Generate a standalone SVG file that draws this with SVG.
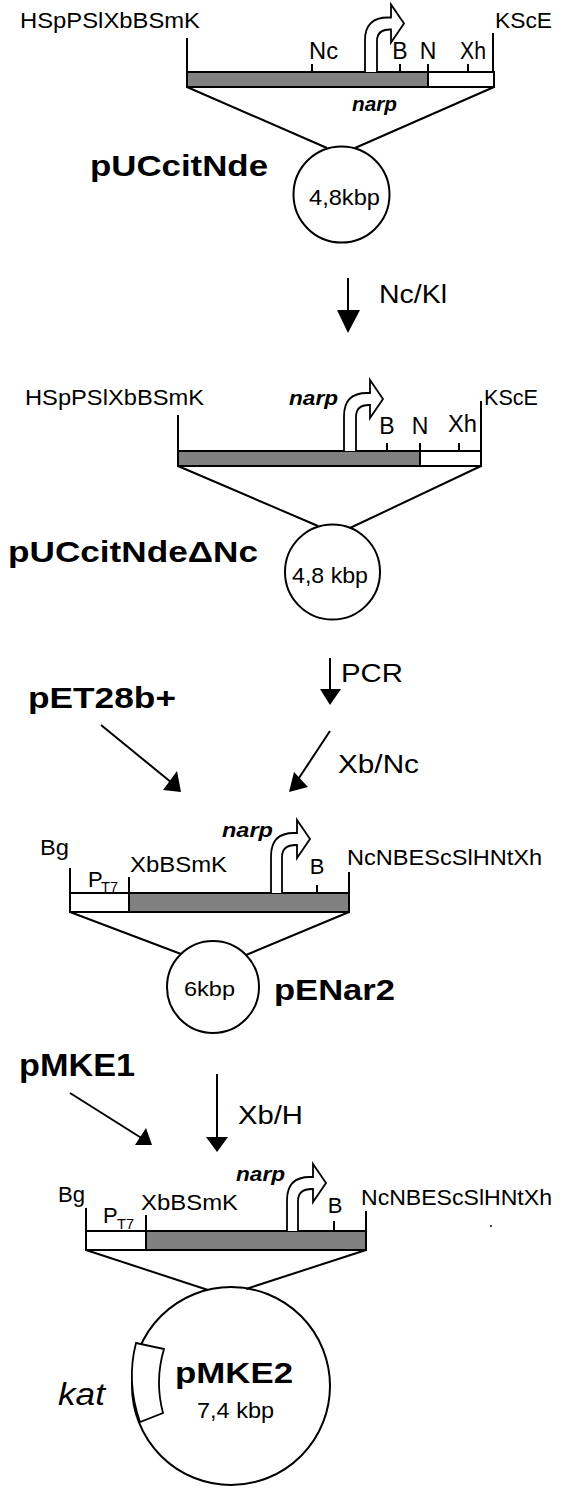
<svg xmlns="http://www.w3.org/2000/svg" width="566" height="1493" viewBox="0 0 566 1493">
<style>
.ln{stroke:#000;stroke-width:2;fill:none}
.bar{stroke:#000;stroke-width:2}
.g{fill:#808080}
.w{fill:#fff}
.pr{stroke:#000;stroke-width:1.8;fill:#fff;stroke-linejoin:miter}
.hd{fill:#000}
text{font-family:"Liberation Sans",Arial,sans-serif;fill:#000}
.bd{font-weight:bold}
.bi{font-weight:bold;font-style:italic}
.it{font-style:italic}
</style>
<rect width="566" height="1493" fill="#fff"/>

<g id="pUCcitNde">
<text x="20" y="28" font-size="22" textLength="180" lengthAdjust="spacingAndGlyphs">HSpPSlXbBSmK</text>
<text x="495" y="28" font-size="22" textLength="57" lengthAdjust="spacingAndGlyphs">KScE</text>
<text x="309" y="59" font-size="23" textLength="29" lengthAdjust="spacingAndGlyphs">Nc</text>
<text x="400" y="59" font-size="23" text-anchor="middle">B</text>
<text x="428" y="59" font-size="23" text-anchor="middle">N</text>
<text x="460" y="59" font-size="23" textLength="26" lengthAdjust="spacingAndGlyphs">Xh</text>
<line class="ln" x1="187" y1="38" x2="187" y2="72"/>
<line class="ln" x1="493" y1="33" x2="493" y2="72"/>
<line class="ln" x1="312" y1="64" x2="312" y2="72"/>
<line class="ln" x1="400" y1="64" x2="400" y2="72"/>
<line class="ln" x1="428" y1="64" x2="428" y2="72"/>
<line class="ln" x1="468" y1="64" x2="468" y2="72"/>
<rect class="bar g" x="187" y="72" width="241" height="15"/>
<rect class="bar w" x="428" y="72" width="66" height="15"/>
<path class="pr" d="M365,72 V40 Q365,17.5 388,17.5 H391 V4.5 L404,23.5 L391,42.5 V29.5 H390 Q377,29.5 377,41 V72"/>
<text class="bi" x="352" y="111" font-size="21" textLength="45" lengthAdjust="spacingAndGlyphs">narp</text>
<line class="ln" x1="187" y1="87" x2="327" y2="148"/>
<line class="ln" x1="494" y1="87" x2="355" y2="148"/>
<circle class="ln" cx="341.5" cy="194.5" r="48"/>
<text x="309" y="205" font-size="22" textLength="71" lengthAdjust="spacingAndGlyphs">4,8kbp</text>
<text class="bd" x="90" y="176" font-size="30" textLength="178" lengthAdjust="spacingAndGlyphs">pUCcitNde</text>
</g>

<g id="pUCcitNdeDNc">
<text x="25" y="405" font-size="22" textLength="179" lengthAdjust="spacingAndGlyphs">HSpPSlXbBSmK</text>
<text x="484" y="405" font-size="22" textLength="54" lengthAdjust="spacingAndGlyphs">KScE</text>
<text x="387" y="434" font-size="23" text-anchor="middle">B</text>
<text x="420" y="434" font-size="23" text-anchor="middle">N</text>
<text x="448" y="432" font-size="23" textLength="29" lengthAdjust="spacingAndGlyphs">Xh</text>
<line class="ln" x1="178" y1="415" x2="178" y2="451"/>
<line class="ln" x1="481" y1="401" x2="481" y2="451"/>
<line class="ln" x1="387" y1="443" x2="387" y2="451"/>
<line class="ln" x1="420" y1="443" x2="420" y2="451"/>
<line class="ln" x1="459" y1="443" x2="459" y2="451"/>
<rect class="bar g" x="178" y="451" width="242" height="15"/>
<rect class="bar w" x="420" y="451" width="61" height="15"/>
<path class="pr" d="M344,451 V416 Q344,393 367,393 H370 V380 L383,399 L370,418 V405 H369 Q356,405 356,417 V451"/>
<text class="bi" x="289" y="405" font-size="21" textLength="49" lengthAdjust="spacingAndGlyphs">narp</text>
<line class="ln" x1="178" y1="466" x2="318" y2="526"/>
<line class="ln" x1="481" y1="466" x2="350" y2="528"/>
<circle class="ln" cx="332.5" cy="572" r="47.5"/>
<text x="292" y="583" font-size="22" textLength="76" lengthAdjust="spacingAndGlyphs">4,8 kbp</text>
<text class="bd" x="8" y="562" font-size="30" textLength="250" lengthAdjust="spacingAndGlyphs">pUCcitNdeΔNc</text>
</g>

<g id="pET28b">
<text class="bd" x="28" y="708" font-size="30" textLength="148" lengthAdjust="spacingAndGlyphs">pET28b+</text>
</g>

<g id="pENar2">
<text x="40" y="855" font-size="22" textLength="29" lengthAdjust="spacingAndGlyphs">Bg</text>
<text x="88" y="887" font-size="22">P</text>
<text x="101" y="892" font-size="14" textLength="17" lengthAdjust="spacingAndGlyphs">T7</text>
<text x="130" y="872" font-size="22" textLength="97" lengthAdjust="spacingAndGlyphs">XbBSmK</text>
<text x="347" y="865" font-size="22" textLength="195" lengthAdjust="spacingAndGlyphs">NcNBEScSlHNtXh</text>
<text x="317" y="874" font-size="22" text-anchor="middle">B</text>
<line class="ln" x1="70" y1="868" x2="70" y2="893"/>
<line class="ln" x1="129" y1="877" x2="129" y2="893"/>
<line class="ln" x1="349" y1="872" x2="349" y2="893"/>
<line class="ln" x1="317" y1="885" x2="317" y2="893"/>
<rect class="bar w" x="70" y="893" width="59" height="19"/>
<rect class="bar g" x="129" y="893" width="220" height="19"/>
<path class="pr" d="M271,893 V856 Q271,833 294,833 H297 V820 L310,839 L297,858 V845 H296 Q282,845 282,857 V893"/>
<text class="bi" x="222" y="837" font-size="21" textLength="51" lengthAdjust="spacingAndGlyphs">narp</text>
<line class="ln" x1="70" y1="912" x2="181" y2="954"/>
<line class="ln" x1="349" y1="912" x2="246" y2="955"/>
<circle class="ln" cx="213" cy="987" r="46"/>
<text x="184" y="996" font-size="20" textLength="51" lengthAdjust="spacingAndGlyphs">6kbp</text>
<text class="bd" x="274" y="1000" font-size="30" textLength="121" lengthAdjust="spacingAndGlyphs">pENar2</text>
</g>

<g id="pMKE1">
<text class="bd" x="19" y="1076" font-size="31" textLength="116" lengthAdjust="spacingAndGlyphs">pMKE1</text>
</g>

<g id="pMKE2">
<text x="58" y="1202" font-size="22" textLength="27" lengthAdjust="spacingAndGlyphs">Bg</text>
<text x="103" y="1223" font-size="22">P</text>
<text x="117" y="1229" font-size="14" textLength="17" lengthAdjust="spacingAndGlyphs">T7</text>
<text x="141" y="1210" font-size="22" textLength="97" lengthAdjust="spacingAndGlyphs">XbBSmK</text>
<text x="361" y="1205" font-size="22" textLength="191" lengthAdjust="spacingAndGlyphs">NcNBEScSlHNtXh</text>
<text x="335" y="1213" font-size="22" text-anchor="middle">B</text>
<circle cx="491" cy="1226" r="1" fill="#000"/>
<line class="ln" x1="86" y1="1208" x2="86" y2="1231"/>
<line class="ln" x1="146" y1="1215" x2="146" y2="1231"/>
<line class="ln" x1="366" y1="1211" x2="366" y2="1231"/>
<line class="ln" x1="334" y1="1221" x2="334" y2="1231"/>
<rect class="bar w" x="86" y="1231" width="60" height="19"/>
<rect class="bar g" x="146" y="1231" width="220" height="19"/>
<path class="pr" d="M287,1231 V1200 Q287,1177 310,1177 H313 V1164 L326,1183 L313,1202 V1189 H312 Q298,1189 298,1201 V1231"/>
<text class="bi" x="236" y="1181" font-size="21" textLength="49" lengthAdjust="spacingAndGlyphs">narp</text>
<line class="ln" x1="86" y1="1250" x2="208" y2="1290"/>
<line class="ln" x1="366" y1="1250" x2="246" y2="1289"/>
<circle class="ln" cx="231" cy="1386" r="99"/>
<path class="pr" d="M136,1343 L164,1349 Q154.5,1381 163,1413 L140,1422 Q126,1382 136,1343 Z"/>
<text class="it" x="58" y="1405" font-size="31" textLength="47" lengthAdjust="spacingAndGlyphs">kat</text>
<text class="bd" x="175" y="1383" font-size="29" textLength="118" lengthAdjust="spacingAndGlyphs">pMKE2</text>
<text x="197" y="1418" font-size="22" textLength="77" lengthAdjust="spacingAndGlyphs">7,4 kbp</text>
</g>

<g id="connectors">
<line class="ln" x1="348" y1="278" x2="348" y2="312"/>
<polygon class="hd" points="337,310 360,310 348,333"/>
<text x="379" y="303" font-size="26" textLength="68" lengthAdjust="spacingAndGlyphs">Nc/Kl</text>
<line class="ln" x1="330" y1="658" x2="330" y2="690"/>
<polygon class="hd" points="320,689 341,689 330,705"/>
<text x="341" y="682" font-size="25" textLength="62" lengthAdjust="spacingAndGlyphs">PCR</text>
<line class="ln" x1="101" y1="725" x2="172" y2="783"/>
<polygon class="hd" points="181,792 163,790 177,771"/>
<line class="ln" x1="330" y1="731" x2="297" y2="781"/>
<polygon class="hd" points="289,792 308,787 294,772"/>
<text x="338" y="773" font-size="25" textLength="81" lengthAdjust="spacingAndGlyphs">Xb/Nc</text>
<line class="ln" x1="70" y1="1093" x2="143" y2="1139"/>
<polygon class="hd" points="152,1145 135,1145 146,1128"/>
<line class="ln" x1="217" y1="1074" x2="217" y2="1138"/>
<polygon class="hd" points="206,1137 228,1137 217,1152"/>
<text x="238" y="1124" font-size="25" textLength="65" lengthAdjust="spacingAndGlyphs">Xb/H</text>
</g>
</svg>
